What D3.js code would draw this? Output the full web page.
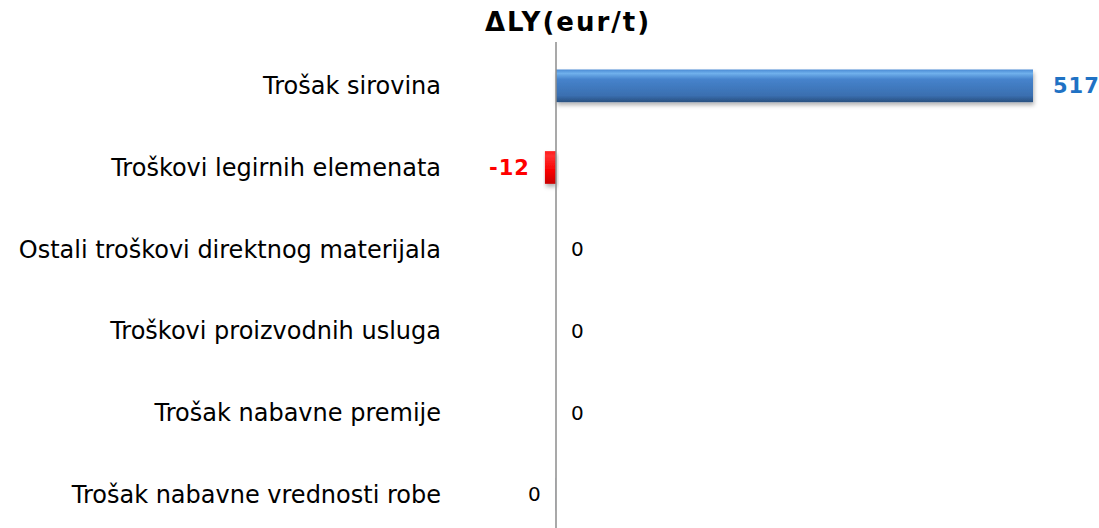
<!DOCTYPE html>
<html>
<head>
<meta charset="utf-8">
<script src="https://cdn.jsdelivr.net/npm/d3@7"></script>
<style>
  body { margin: 0; background: #fff; }
  text { font-family: "DejaVu Sans", Verdana, sans-serif; }
</style>
</head>
<body>
<script>
// data
var categories = [
    "Trošak sirovina",
    "Troškovi legirnih elemenata",
    "Ostali troškovi direktnog materijala",
    "Troškovi proizvodnih usluga",
    "Trošak nabavne premije",
    "Trošak nabavne vrednosti robe"
];
var values = [517, -12, 0, 0, 0, -0.4];
var title = "ΔLY(eur/t)";

var width = 1099, height = 528;

var svg = d3.select("body").append("svg")
    .attr("width", width)
    .attr("height", height);

var defs = svg.append("defs");

var blueGrad = defs.append("linearGradient")
    .attr("id", "blueGrad").attr("x1", 0).attr("y1", 0).attr("x2", 0).attr("y2", 1);
blueGrad.append("stop").attr("offset", "0%").attr("stop-color", "#4a8ad4");
blueGrad.append("stop").attr("offset", "12%").attr("stop-color", "#6fb0ec");
blueGrad.append("stop").attr("offset", "30%").attr("stop-color", "#4683cc");
blueGrad.append("stop").attr("offset", "80%").attr("stop-color", "#3a6fb0");
blueGrad.append("stop").attr("offset", "100%").attr("stop-color", "#28507f");

var redGrad = defs.append("linearGradient")
    .attr("id", "redGrad").attr("x1", 0).attr("y1", 0).attr("x2", 0).attr("y2", 1);
redGrad.append("stop").attr("offset", "0%").attr("stop-color", "#ff1a1a");
redGrad.append("stop").attr("offset", "15%").attr("stop-color", "#ff3030");
redGrad.append("stop").attr("offset", "60%").attr("stop-color", "#f80000");
redGrad.append("stop").attr("offset", "100%").attr("stop-color", "#c80000");

var shadow = defs.append("filter").attr("id", "shadow")
    .attr("x", "-10%").attr("y", "-30%").attr("width", "130%").attr("height", "180%");
shadow.append("feDropShadow")
    .attr("dx", 1).attr("dy", 3).attr("stdDeviation", 2)
    .attr("flood-color", "#000").attr("flood-opacity", 0.3);

var x = d3.scaleLinear()
    .domain([0, 517])
    .range([556, 1033]);

var y = d3.scaleBand()
    .domain(categories)
    .range([45, 535])
    .paddingInner(0.6)
    .paddingOuter(0.3);

var rows = categories.map(function (c, i) { return { name: c, value: values[i] }; });

// title
svg.append("text")
    .attr("x", 568)
    .attr("y", 31)
    .attr("text-anchor", "middle")
    .attr("font-size", 26)
    .attr("font-weight", "bold")
    .attr("letter-spacing", 2)
    .attr("fill", "#000")
    .text(title);

// bars
svg.selectAll(".bar")
    .data(rows)
    .enter().append("rect")
    .attr("class", "bar")
    .attr("x", function (d) { return Math.min(x(d.value), x(0)); })
    .attr("y", function (d) { return y(d.name); })
    .attr("width", function (d) { return Math.abs(x(d.value) - x(0)); })
    .attr("height", y.bandwidth())
    .attr("fill", function (d) { return d.value > 0 ? "url(#blueGrad)" : (d.value < -1 ? "url(#redGrad)" : "#a8b4c4"); })
    .attr("filter", function (d) { return Math.abs(d.value) >= 1 ? "url(#shadow)" : null; });

// axis line
svg.append("line")
    .attr("x1", x(0)).attr("x2", x(0))
    .attr("y1", 42).attr("y2", height)
    .attr("stroke", "#8c8c8c")
    .attr("stroke-width", 1.5);

// category labels
svg.selectAll(".cat")
    .data(rows)
    .enter().append("text")
    .attr("class", "cat")
    .attr("x", 441)
    .attr("y", function (d) { return y(d.name) + y.bandwidth() / 2; })
    .attr("dy", "0.35em")
    .attr("text-anchor", "end")
    .attr("font-size", 24)
    .attr("fill", "#000")
    .text(function (d) { return d.name; });

// value labels
svg.selectAll(".val")
    .data(rows)
    .enter().append("text")
    .attr("class", "val")
    .attr("x", function (d) {
        if (d.value < 0) return x(d.value) - 15;
        return x(d.value) + (d.value >= 1 ? 20 : 15);
    })
    .attr("y", function (d) { return y(d.name) + y.bandwidth() / 2; })
    .attr("dy", "0.36em")
    .attr("text-anchor", function (d) { return d.value < 0 ? "end" : "start"; })
    .attr("font-size", function (d) { return Math.abs(d.value) >= 1 ? 21 : 20; })
    .attr("font-weight", function (d) { return Math.abs(d.value) >= 1 ? "bold" : "normal"; })
    .attr("letter-spacing", function (d) { return Math.abs(d.value) >= 1 ? 1 : 0; })
    .attr("fill", function (d) {
        if (d.value >= 1) return "#1f72c4";
        if (d.value <= -1) return "#ff0000";
        return "#000";
    })
    .text(function (d) { return Math.round(d.value) === 0 ? "0" : Math.round(d.value); });
</script>
</body>
</html>
